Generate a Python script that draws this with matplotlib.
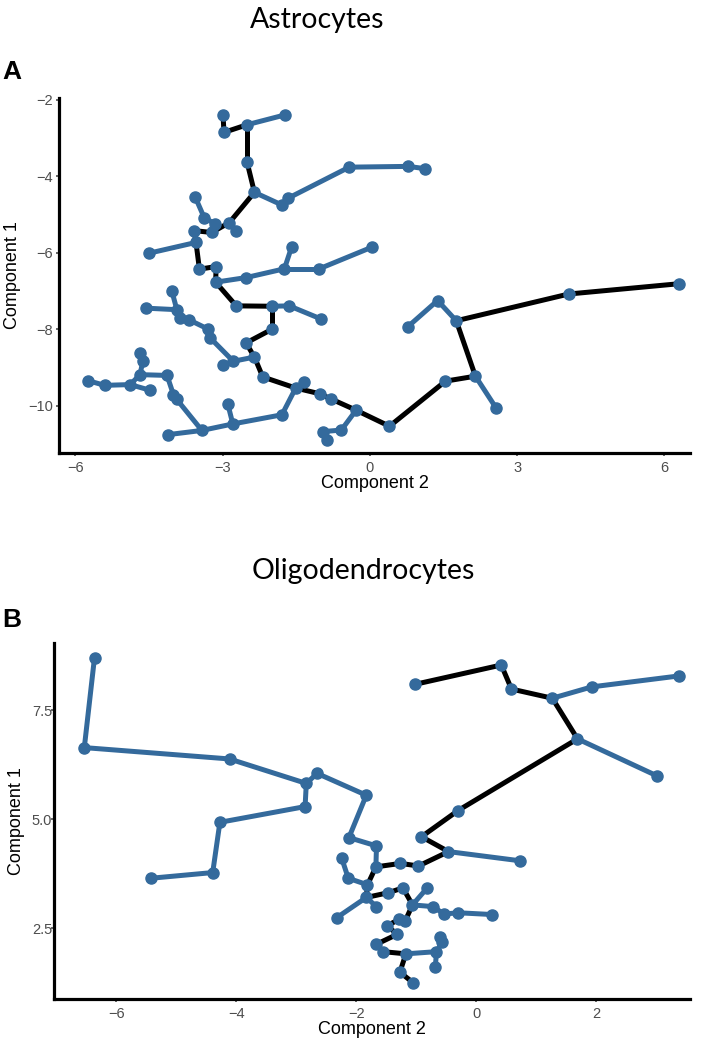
import matplotlib
matplotlib.use("Agg")
import matplotlib.pyplot as plt

plt.rcParams['font.family'] = ['Liberation Sans', 'DejaVu Sans']

# Astrocytes tree nodes (Component 2, Component 1)
astro_x = [-2.99, -2.97, -2.50, -1.72, -2.50, -2.35, -1.79, -1.66, -0.42, 0.78,
           1.13, -2.86, -2.72, -3.15, -3.22, -3.37, -3.56, -3.58, -3.54, -4.49,
           -3.47, -3.13, -3.14, -2.52, -1.74, -1.59, -1.03, 0.05, -2.72, -1.99,
           -1.64, -1.00, -1.99, -2.52, -2.35, -2.18, -1.51, -1.34, -1.02, -0.80,
           -0.28, 0.40, -1.79, -2.79, -2.89, -3.42, -4.11, -5.73, -5.40, -4.88,
           -4.47, -4.68, -4.62, -4.68, -4.13, -4.00, -3.93, -2.78, -2.98, -3.25,
           -3.29, -3.69, -3.86, -3.93, -4.03, -4.56, 1.54, 2.15, 2.57, 1.76,
           1.38, 0.77, 4.05, 6.30, -0.58, -0.95, -0.87]
astro_y = [-2.39, -2.85, -2.65, -2.39, -3.63, -4.42, -4.75, -4.57, -3.76, -3.74,
           -3.80, -5.21, -5.42, -5.24, -5.47, -5.09, -4.53, -5.42, -5.73, -6.01,
           -6.43, -6.36, -6.77, -6.65, -6.42, -5.84, -6.42, -5.85, -7.39, -7.40,
           -7.39, -7.73, -8.00, -8.36, -8.73, -9.25, -9.54, -9.39, -9.69, -9.82,
           -10.12, -10.54, -10.24, -10.48, -9.97, -10.65, -10.76, -9.35, -9.47, -9.45,
           -9.60, -9.19, -8.82, -8.62, -9.21, -9.71, -9.84, -8.84, -8.95, -8.23,
           -8.00, -7.75, -7.71, -7.49, -7.01, -7.45, -9.36, -9.23, -10.06, -7.78,
           -7.25, -7.94, -7.08, -6.81, -10.64, -10.68, -10.89]
astro_trunk = [(0, 1), (1, 2), (2, 4), (4, 5), (5, 11), (11, 14), (14, 17), (17, 18),
               (18, 20), (20, 21), (21, 22), (22, 28), (28, 29), (29, 32), (32, 33),
               (33, 34), (34, 35), (35, 36), (36, 38), (38, 39), (39, 40), (40, 41),
               (41, 66), (66, 67), (67, 69), (69, 72), (72, 73)]
astro_branch = [(2, 3), (5, 6), (6, 7), (7, 8), (8, 9), (9, 10), (11, 12), (14, 13),
                (13, 15), (15, 16), (18, 19), (22, 23), (23, 24), (24, 26), (26, 27),
                (24, 25), (29, 30), (30, 31), (34, 57), (57, 58), (57, 59), (59, 60),
                (60, 61), (61, 62), (62, 63), (63, 64), (63, 65), (36, 37), (36, 42),
                (42, 43), (43, 44), (43, 45), (45, 46), (45, 56), (56, 55), (55, 54),
                (54, 51), (51, 52), (52, 53), (51, 49), (49, 48), (48, 47), (49, 50),
                (40, 74), (74, 75), (75, 76), (67, 68), (69, 70), (70, 71)]

# Oligodendrocytes tree nodes
oligo_x = [-1.01, 0.42, 0.59, 1.27, 1.69, -0.30, -0.91, -0.46, -0.96, -1.26,
           -1.67, -1.81, -1.83, -1.66, -1.46, -1.22, -1.06, -1.18, -1.28, -1.49,
           -1.31, -1.66, -1.55, -1.17, -1.27, -1.05, 1.93, 3.38, 3.02, 0.73,
           -1.66, -2.12, -1.83, -2.65, -2.83, -4.11, -6.53, -6.36, -2.85, -4.27,
           -4.39, -5.42, -2.13, -2.24, -2.32, -0.82, -0.71, -0.54, -0.30, 0.26,
           -0.66, -0.56, -0.60, -0.68]
oligo_y = [8.09, 8.53, 7.98, 7.77, 6.84, 5.20, 4.60, 4.26, 3.93, 3.99,
           3.91, 3.50, 3.21, 3.00, 3.32, 3.43, 3.04, 2.68, 2.71, 2.56,
           2.37, 2.14, 1.97, 1.92, 1.50, 1.26, 8.03, 8.28, 5.99, 4.05,
           4.39, 4.58, 5.55, 6.05, 5.82, 6.38, 6.64, 8.70, 5.29, 4.93,
           3.78, 3.65, 3.65, 4.11, 2.75, 3.42, 3.00, 2.83, 2.86, 2.82,
           1.97, 2.20, 2.31, 1.61]
oligo_trunk = [(0, 1), (1, 2), (2, 3), (3, 4), (4, 5), (5, 6), (6, 7), (7, 8), (8, 9),
               (9, 10), (10, 11), (11, 12), (12, 14), (14, 15), (15, 16), (16, 17),
               (17, 18), (18, 19), (19, 20), (20, 21), (21, 22), (22, 23), (23, 24),
               (24, 25)]
oligo_branch = [(3, 26), (26, 27), (4, 28), (7, 29), (10, 30), (30, 31), (31, 32),
                (32, 33), (33, 34), (34, 35), (35, 36), (36, 37), (34, 38), (38, 39),
                (39, 40), (40, 41), (11, 42), (42, 43), (12, 44), (12, 13), (16, 45),
                (16, 46), (46, 47), (47, 48), (48, 49), (23, 50), (50, 51), (51, 52),
                (50, 53)]

BLUE = '#346a9c'
GRAY = '#4d4d4d'


def drawTree(ax, xs, ys, trunk, branch):
    for a, b in branch:
        ax.plot([xs[a], xs[b]], [ys[a], ys[b]], color=BLUE, lw=3.6,
                solid_capstyle='round', zorder=2)
    for a, b in trunk:
        ax.plot([xs[a], xs[b]], [ys[a], ys[b]], color='black', lw=3.6,
                solid_capstyle='round', zorder=3)
    ax.plot(xs, ys, 'o', color=BLUE, ms=8, mec=BLUE, zorder=4)


def styleAxes(ax, ypad):
    ax.set_facecolor('white')
    for s in ['top', 'right']:
        ax.spines[s].set_visible(False)
    for s in ['left', 'bottom']:
        ax.spines[s].set_linewidth(2.3)
        ax.spines[s].set_color('black')
    ax.tick_params(axis='both', length=2.5, width=1.2, color=GRAY,
                   labelcolor=GRAY, labelsize=10.5)
    ax.tick_params(axis='y', pad=ypad)
    ax.tick_params(axis='x', pad=3)
    ax.set_xlabel('Component 2', fontsize=13, labelpad=0)
    ax.set_ylabel('Component 1', fontsize=13, labelpad=5)


fig = plt.figure(figsize=(7.09, 10.38), dpi=100)

axA = fig.add_axes([0.0832, 0.5636, 0.890, 0.342])
drawTree(axA, astro_x, astro_y, astro_trunk, astro_branch)
axA.set_xlim(-6.33, 6.52)
axA.set_ylim(-11.24, -1.95)
axA.set_xticks([-6, -3, 0, 3, 6])
axA.set_yticks([-10, -8, -6, -4, -2])
styleAxes(axA, 2)

axB = fig.add_axes([0.0766, 0.0373, 0.897, 0.3435])
drawTree(axB, oligo_x, oligo_y, oligo_trunk, oligo_branch)
axB.set_xlim(-7.03, 3.57)
axB.set_ylim(0.88, 9.04)
axB.set_xticks([-6, -4, -2, 0, 2])
axB.set_yticks([2.5, 5.0, 7.5])
axB.set_yticklabels(['2.5', '5.0', '7.5'])
styleAxes(axB, -1)

fig.text(0.447, 0.981, 'Astrocytes', ha='center', va='center', fontsize=20.5,
         family='Lato')
fig.text(0.512, 0.450, 'Oligodendrocytes', ha='center', va='center', fontsize=20.5,
         family='Lato')
fig.text(0.003, 0.931, 'A', ha='left', va='center', fontsize=19, fontweight='bold')
fig.text(0.003, 0.403, 'B', ha='left', va='center', fontsize=19, fontweight='bold')

fig.savefig('out.png', dpi=100, facecolor='white')
